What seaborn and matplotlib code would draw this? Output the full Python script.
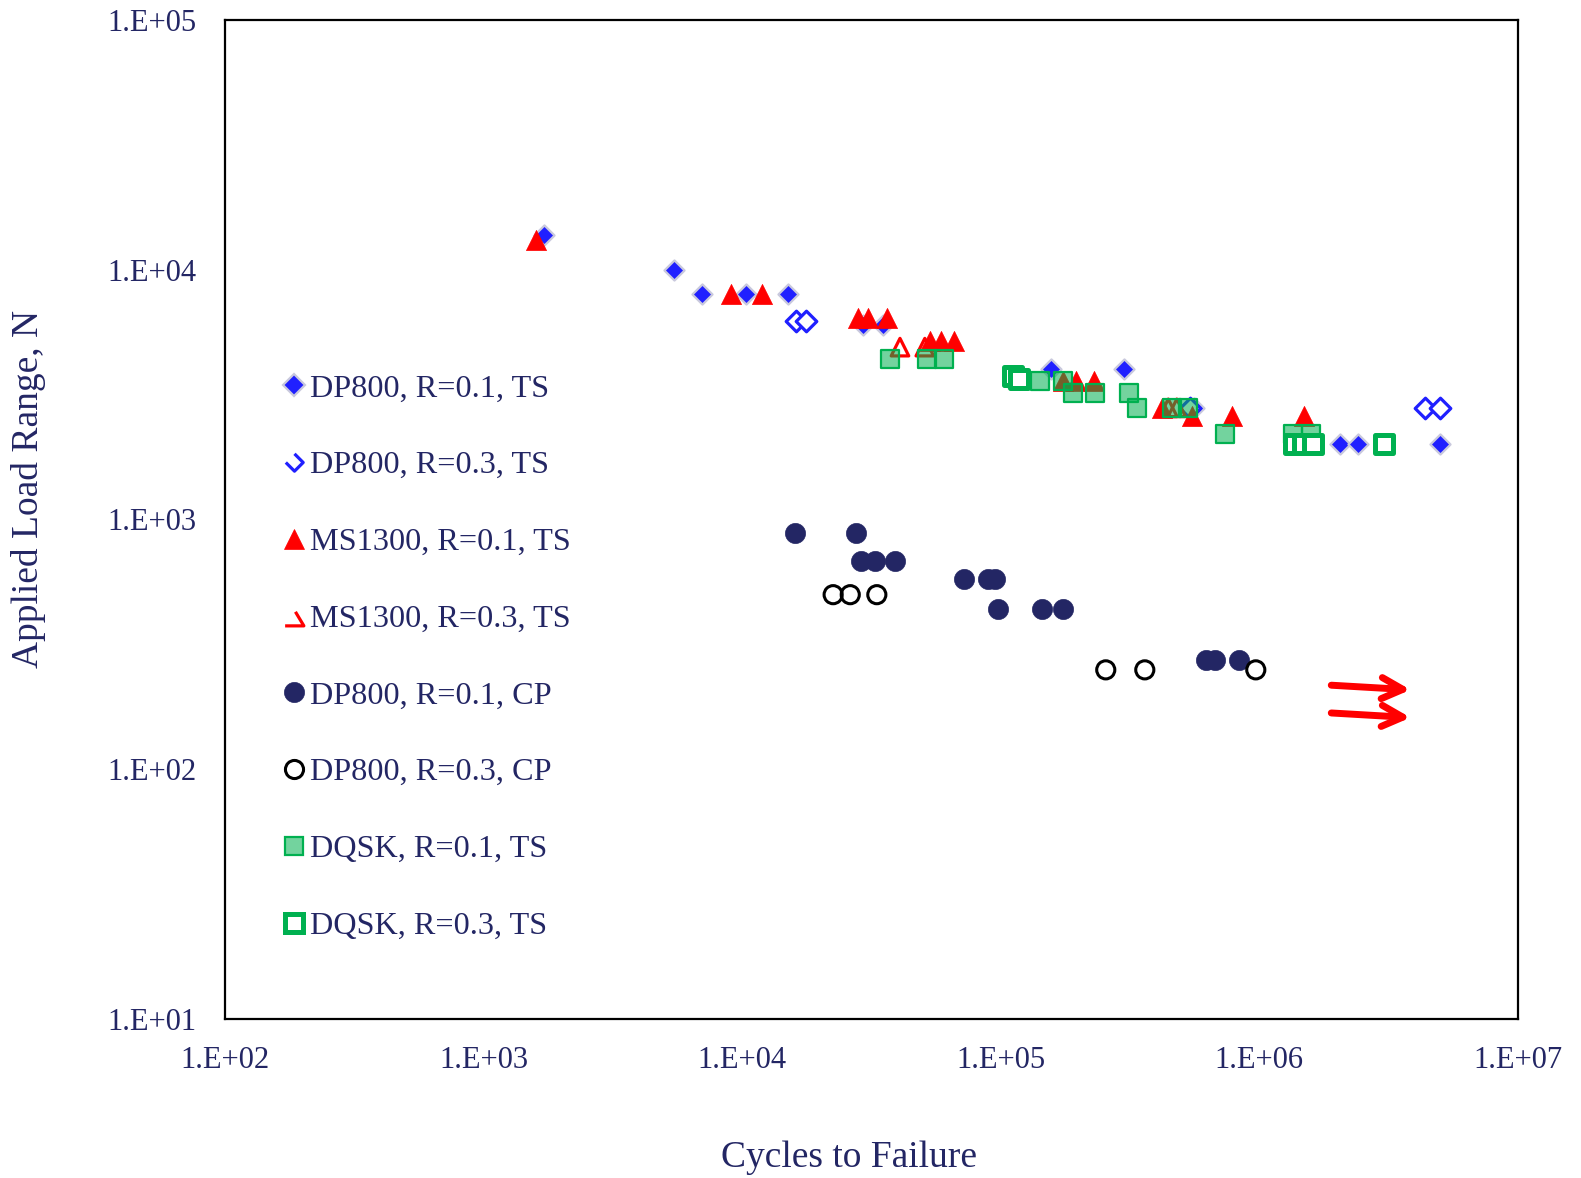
import numpy as np
import matplotlib
matplotlib.use("Agg")
import matplotlib.pyplot as plt
import matplotlib.lines as mlines
from matplotlib.path import Path
from matplotlib.ticker import FuncFormatter, LogLocator
import seaborn as sns

# --- data (cycles, load range in N) ---
dp800_r01_ts_n = [1710, 5460, 7020, 10330, 15070, 29300, 35100, 157000, 300000, 560000, 2060000, 2420000, 5000000]
dp800_r01_ts_p = [13800, 10000, 8000, 8000, 8000, 6000, 6000, 4000, 4000, 2800, 2000, 2000, 2000]

dp800_r03_ts_n = [16200, 17600, 540000, 4370000, 5000000]
dp800_r03_ts_p = [6250, 6250, 2800, 2800, 2800]

ms1300_r01_ts_n = [1592, 9040, 11970, 28000, 30700, 36400, 53200, 59000, 66300,
                   175000, 196000, 230000, 419000, 548000, 782000, 1490000]
ms1300_r01_ts_p = [13200, 8000, 8000, 6400, 6400, 6400, 5200, 5200, 5200,
                   3600, 3600, 3600, 2800, 2600, 2600, 2600]

ms1300_r03_ts_n = [40800, 50900, 445000, 480000]
ms1300_r03_ts_p = [4900, 4900, 2800, 2800]

dp800_r01_cp_n = [15950, 27500, 28900, 32800, 39200, 71900, 89500, 95200, 97500,
                  144500, 174000, 622000, 672000, 832000]
dp800_r01_cp_p = [880, 880, 680, 680, 680, 580, 580, 580, 440, 440, 440, 275, 275, 275]

dp800_r03_cp_n = [22500, 26200, 33200, 255000, 361000, 970000]
dp800_r03_cp_p = [500, 500, 500, 250, 250, 250]

dqsk_r01_ts_n = [37400, 52100, 60400, 115000, 142600, 175000, 191000, 232000, 314000,
                 336000, 458000, 531000, 738000, 1355000, 1580000]
dqsk_r01_ts_p = [4400, 4400, 4400, 3700, 3600, 3600, 3200, 3200, 3200,
                 2800, 2800, 2800, 2200, 2200, 2200]

dqsk_r03_ts_n = [112000, 118000, 1360000, 1480000, 1610000, 3050000]
dqsk_r03_ts_p = [3750, 3650, 2000, 2000, 2000, 2000]

# run-out arrows (start cycles, end cycles, start load, end load)
arrow_n0 = [1.9e6, 1.9e6]
arrow_n1 = [3.85e6, 3.85e6]
arrow_p0 = [217, 168]
arrow_p1 = [208, 161]

labels = ["DP800, R=0.1, TS", "DP800, R=0.3, TS", "MS1300, R=0.1, TS", "MS1300, R=0.3, TS",
          "DP800, R=0.1, CP", "DP800, R=0.3, CP", "DQSK, R=0.1, TS", "DQSK, R=0.3, TS"]

NAVY = "#232664"
BLUE = "#2020ff"
RED = "#ff0000"
GREEN = "#00b050"
GREEN_FILL = (0.0, 0.69, 0.31, 0.55)

sns.set_style("white")
plt.rcParams["font.family"] = ["Liberation Serif", "DejaVu Serif"]

fig = plt.figure(figsize=(15.81, 11.78), dpi=100)
ax = fig.add_axes([0.1423, 0.135, 0.8177, 0.848])

# series styles: (x, y, marker, size, facecolor, edgecolor, lw)
series = [
    (dp800_r01_ts_n, dp800_r01_ts_p, "D", 105, BLUE, "#c9c9dd", 1.6),
    (dp800_r03_ts_n, dp800_r03_ts_p, "D", 110, "white", BLUE, 2.3),
    (ms1300_r01_ts_n, ms1300_r01_ts_p, "^", 210, RED, RED, 0.5),
    (ms1300_r03_ts_n, ms1300_r03_ts_p, "^", 160, "none", RED, 2.3),
    (dp800_r01_cp_n, dp800_r01_cp_p, "o", 210, NAVY, NAVY, 0.5),
    (dp800_r03_cp_n, dp800_r03_cp_p, "o", 170, "none", "black", 2.2),
    (dqsk_r01_ts_n, dqsk_r01_ts_p, "s", 165, GREEN_FILL, GREEN, 1.6),
    (dqsk_r03_ts_n, dqsk_r03_ts_p, "s", 165, "white", GREEN, 3.6),
]

for i, (xs, ys, mk, s, fc, ec, lw) in enumerate(series):
    sns.scatterplot(x=xs, y=ys, ax=ax, marker=mk, s=s, facecolor=fc,
                    edgecolor=ec, linewidth=lw, zorder=3 + i, legend=False)

for a, b, c, d in zip(arrow_n0, arrow_n1, arrow_p0, arrow_p1):
    ax.annotate("", xy=(b, d), xytext=(a, c),
                arrowprops=dict(arrowstyle="->", color=RED, lw=5, mutation_scale=38,
                                shrinkA=0, shrinkB=0))

ax.set_xscale("log")
ax.set_yscale("log")
ax.set_xlim(1e2, 1e7)
ax.set_ylim(1e1, 1e5)

fmt = FuncFormatter(lambda v, _: f"1.E+{int(round(np.log10(v))):02d}")
ax.xaxis.set_major_formatter(fmt)
ax.yaxis.set_major_formatter(fmt)
ax.xaxis.set_minor_locator(LogLocator(base=10, subs=np.arange(2, 10)))
ax.yaxis.set_minor_locator(LogLocator(base=10, subs=np.arange(2, 10)))

for sp in ax.spines.values():
    sp.set_visible(True)
    sp.set_color("black")
    sp.set_linewidth(1.6)

ax.tick_params(which="major", direction="inout", length=13, width=1.5,
               labelsize=22, labelcolor=NAVY, top=False, right=False)
ax.tick_params(axis="x", which="major", pad=13)
ax.tick_params(axis="y", which="major", pad=14)
ax.tick_params(which="minor", direction="in", length=7, width=1.2, top=False, right=False)

ax.set_xlabel("Cycles to Failure", fontsize=27, color=NAVY)
ax.xaxis.label.set_va("center")
ax.xaxis.set_label_coords(0.4826, -0.1385)
ax.set_ylabel("Applied Load Range, N", fontsize=27, color=NAVY)
ax.yaxis.label.set_va("center")
ax.yaxis.set_label_coords(-0.152, 0.5305)

# legend handles (the open markers appear clipped in the original)
half_diamond = Path([(-1, 0), (0, -1), (1, 0), (0, 1)])
half_triangle = Path([(-1, -1), (1, -1), (0.1, 0.5)])
handle_style = [
    dict(marker="D", ms=115 ** 0.5, mfc=BLUE, mec="#c9c9dd", mew=1.6),
    dict(marker=half_diamond, ms=12.5, mfc="none", mec=BLUE, mew=2.3),
    dict(marker="^", ms=210 ** 0.5, mfc=RED, mec=RED, mew=0.5),
    dict(marker=half_triangle, ms=13.5, mfc="none", mec=RED, mew=2.3),
    dict(marker="o", ms=210 ** 0.5, mfc=NAVY, mec=NAVY, mew=0.5),
    dict(marker="o", ms=170 ** 0.5, mfc="none", mec="black", mew=2.2),
    dict(marker="s", ms=170 ** 0.5, mfc=GREEN_FILL, mec=GREEN, mew=1.6),
    dict(marker="s", ms=165 ** 0.5, mfc="white", mec=GREEN, mew=3.6),
]
handles = [mlines.Line2D([], [], ls="none", **st) for st in handle_style]
leg = ax.legend(handles, labels, loc="upper left", bbox_to_anchor=(0.0467, 0.6457),
                frameon=False, fontsize=23.2, labelspacing=1.465, handlelength=0.56,
                handletextpad=0.2, borderpad=0, borderaxespad=0)
for t in leg.get_texts():
    t.set_color(NAVY)

fig.savefig("out.png", dpi=100)
